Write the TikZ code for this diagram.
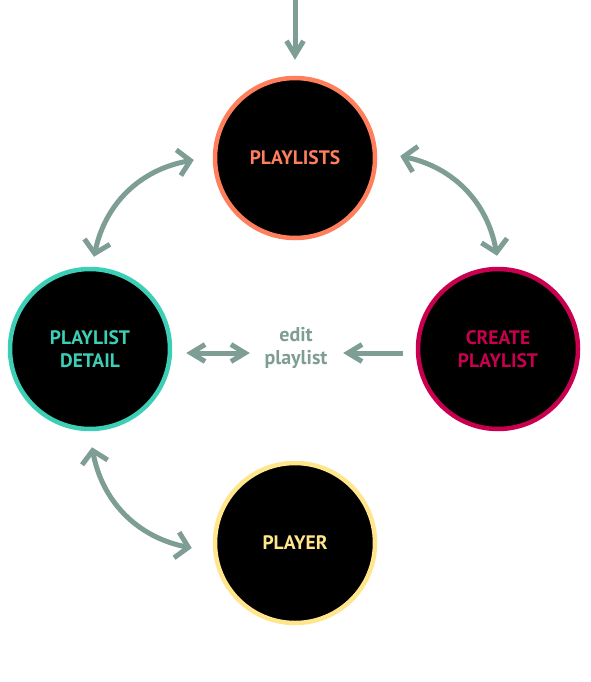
\documentclass[tikz,border=0pt]{standalone}
\usepackage{fontspec}
\setmainfont{PT Sans}
\usetikzlibrary{arrows.meta}
\definecolor{arrowc}{HTML}{7E9D95}
\definecolor{plc}{HTML}{FF7F5C}
\definecolor{pdc}{HTML}{3DCFB5}
\definecolor{cpc}{HTML}{C9004F}
\definecolor{pyc}{HTML}{FFE68C}
\begin{document}
\begin{tikzpicture}[x=1pt,y=-1pt,
  circ/.style={circle, fill=black, line width=4.5pt, minimum size=160pt, inner sep=0pt,
    font=\bfseries\fontsize{19.5}{22.5}\selectfont, align=center},
  conn/.style={draw=arrowc, line width=5pt},
  stip/.style={-{Straight Barb[sharp,length=14pt,width=17pt]}},
  stipboth/.style={{Straight Barb[sharp,length=14pt,width=17pt]}-{Straight Barb[sharp,length=14pt,width=17pt]}},
  ctip/.style={{Straight Barb[sharp,length=12pt,width=26pt]}-{Straight Barb[sharp,length=12pt,width=26pt]}}]
\useasboundingbox (0,0) rectangle (590,682);
\node[circ, draw=plc, text=plc] (pl) at (295,158) {PLAYLISTS};
\node[circ, draw=pdc, text=pdc] (pd) at (90,349) {PLAYLIST\\DETAIL};
\node[circ, draw=cpc, text=cpc] (cp) at (498,349) {CREATE\\PLAYLIST};
\node[circ, draw=pyc, text=pyc] (py) at (295,543) {PLAYER};
\node[text=arrowc, font=\bfseries\fontsize{20}{22.5}\selectfont, align=center,
  minimum width=80pt, inner sep=0pt] (ed) at (296,348) {edit\\playlist};
\coordinate (top) at (295,0);
\draw[conn, stip] (top) -- ([yshift=16pt]pl.north);
\draw[conn, ctip] ([xshift=4pt,yshift=10pt]pd.north) to[bend left=34] ([xshift=-19pt,yshift=-2pt]pl.west);
\draw[conn, ctip] ([xshift=23pt,yshift=2pt]pl.east) to[bend left=34] ([xshift=-1pt,yshift=11pt]cp.north);
\draw[conn, ctip] ([xshift=2pt,yshift=-16pt]pd.south) to[bend right=34] ([xshift=-21pt,yshift=-5pt]py.west);
\draw[conn, stipboth] ([xshift=14pt,yshift=-4pt]pd.east) -- ([xshift=-6pt,yshift=-5pt]ed.west);
\draw[conn, stip] ([xshift=-13pt,yshift=-4pt]cp.west) -- ([xshift=7pt,yshift=-5pt]ed.east);
\end{tikzpicture}
\end{document}
